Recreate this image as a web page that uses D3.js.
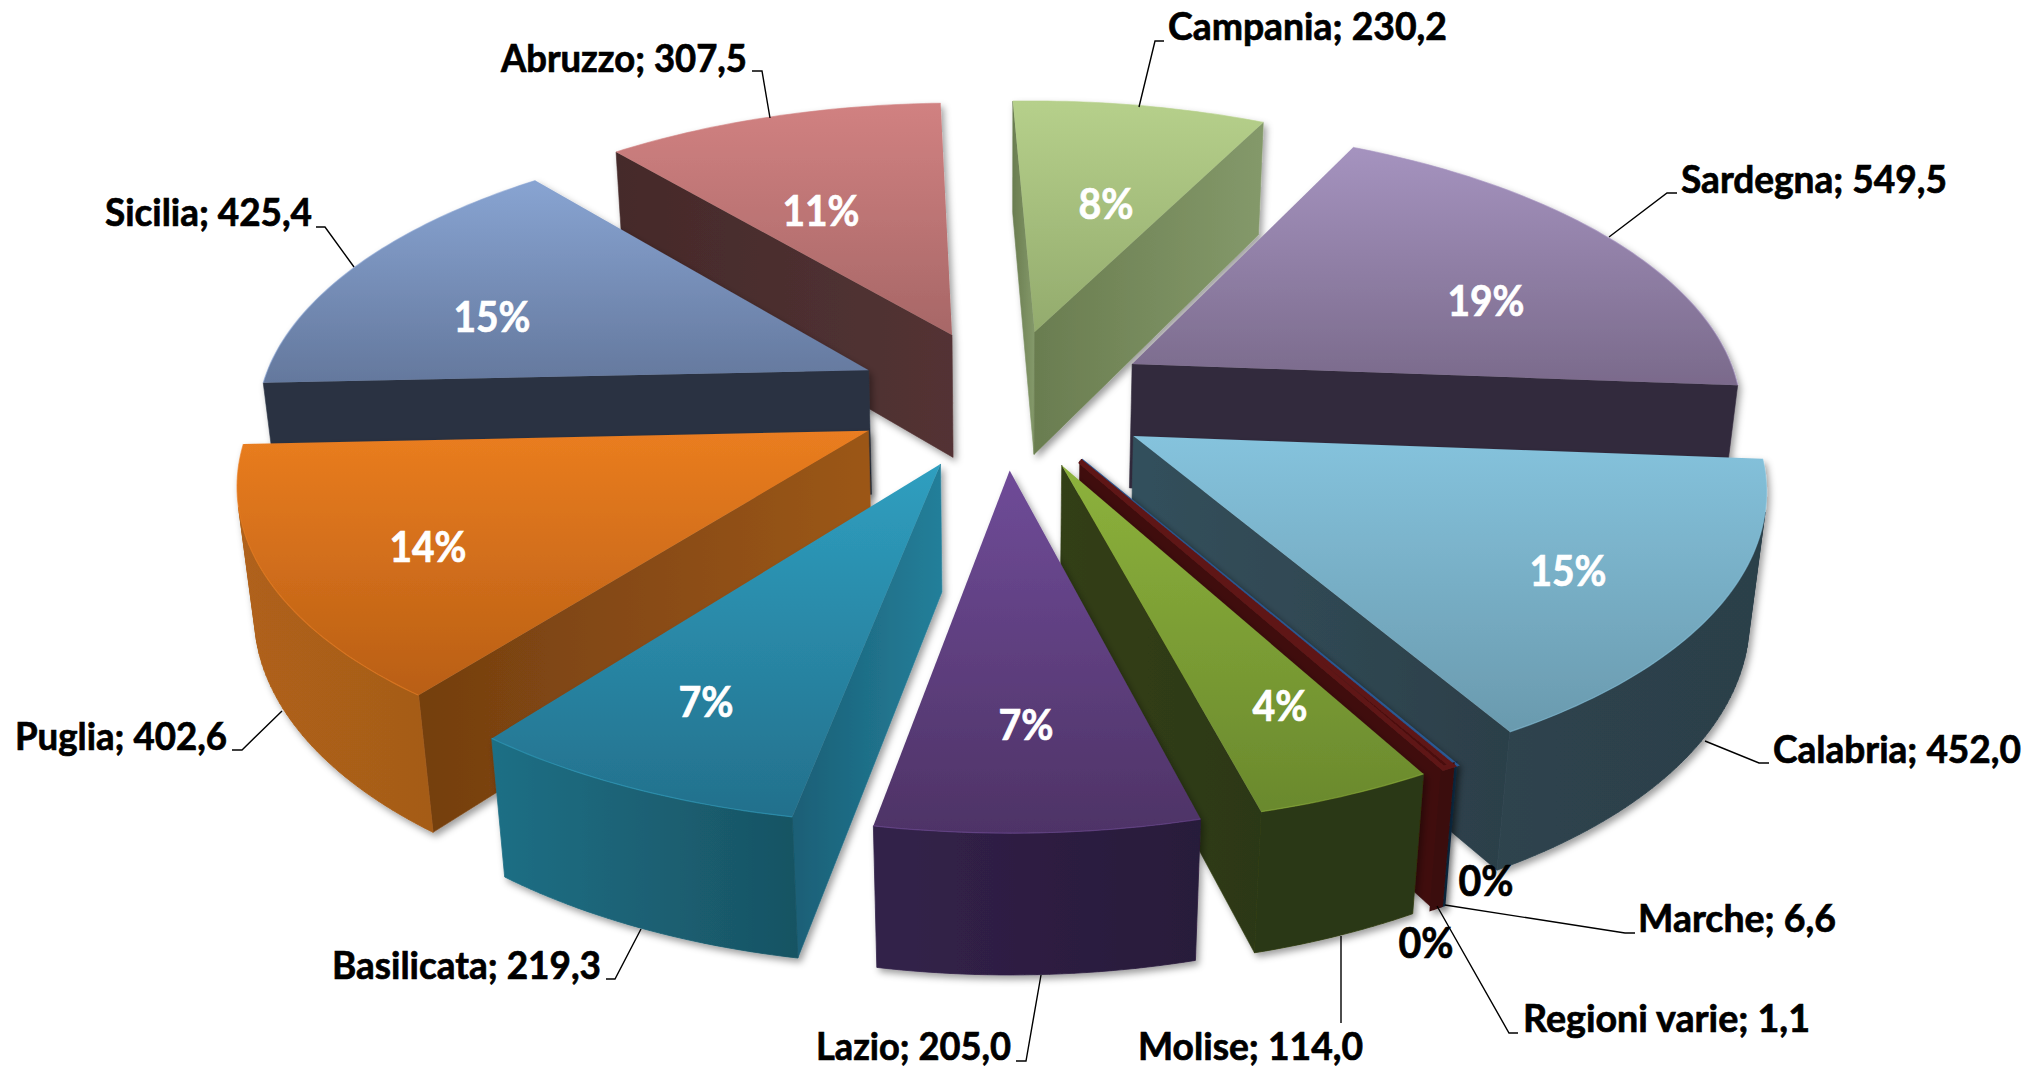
<!DOCTYPE html>
<html><head><meta charset="utf-8">
<script src="https://cdnjs.cloudflare.com/ajax/libs/d3/7.8.5/d3.min.js"></script>
<style>html,body{margin:0;padding:0;background:#fff}svg{display:block}text{font-family:Lato,"Open Sans",sans-serif;font-weight:700}</style>
</head><body><svg id="c" width="2026" height="1067"></svg>
<script>
// ---- data (clockwise from the top) ----
const regions=["Campania","Sardegna","Calabria","Regioni varie","Marche","Molise","Lazio","Basilicata","Puglia","Sicilia","Abruzzo"];
const values=[230.2,549.5,452.0,1.1,6.6,114.0,205.0,219.3,402.6,425.4,307.5];
const percents=["8%","19%","15%","0%","0%","4%","7%","7%","14%","15%","11%"];
// ---- styles, one entry per region ----
const topFrom=["#b6d08b","#a593bf","#85c3dd","#2f62a3","#5e1616","#8db23c","#6f4b98","#2f9fc0","#ea7d20","#88a4d2","#d18181"];
const topTo  =["#93ab6d","#7a6a8b","#6a9aae","#26518a","#4a1010","#6a892d","#4e3366","#23708c","#b95f15","#64789d","#a76767"];
const wallFrom=["#5c6e45","#332b3d","#2f4a55","#123a66","#3a0e0e","#2c3812","#33224a","#1f6f85","#b0621a","#293242","#4e3132"];
const wallTo  =["#5c6e45","#332b3d","#2c3f49","#10304f","#3a0e0e","#2c3812","#281a3a","#144653","#8c4e16","#293242","#4e3132"];
const cutFrom =["#6a7d50","#332b3d","#33505c","#123a66","#3f1010","#333f14","#3a2752","#1a5f76","#743f10","#293242","#452a2a"];
const cutTo   =["#84996a","#332b3d","#2c3f49","#123a66","#3f1010","#2c3812","#3a2752","#247f9a","#9c5717","#293242","#533334"];
// ---- text layout ----
const labelBox=[[1168,279,40],[1681,266,193],[1773,248,763],[1523,287,1032],[1638,198,932],[1138,225,1060],[816,195,1060],[332,269,979],[15,212,750],[105,207,226],[501,246,72]];
const leaders=[[[1139,107],[1155,41],[1164,41]],[[1609,237],[1667,193],[1677,193]],[[1705,741],[1759,763],[1769,763]],[[1437,906],[1509,1033],[1518,1033]],[[1445,905],[1625,933],[1635,933]],[[1341,936],[1341,1023]],[[1041,975],[1026,1061],[1016,1061]],[[641,929],[615,979],[606,979]],[[282,711],[242,750],[232,750]],[[354,267],[325,227],[316,227]],[[770,118],[762,71],[752,71]]];
const pctPos=[[1106,204],[1486,301],[1568,571],[1486,881],[1426,943],[1280,706],[1026,725],[706,702],[428,547],[492,317],[821,211]];
const pctFill=["#fff","#fff","#fff","#000","#000","#fff","#fff","#fff","#fff","#fff","#fff"];

// ---- projection of the exploded pie ----
const cx=1004,cy=398,Rx=610,Ry=284,persp=0.15,conv=0.022,depth=128,explode=0.246;
const sx=d3.scaleLinear().domain([0,1]).range([cx,cx+Rx]);
function project(X,Y,z){const w=1/(1-persp*Y+conv*z);return [cx+(sx(X)-cx)*w, cy+(Ry*Y+depth*z)*w];}
const rad=Math.PI/180;
const pie=d3.pie().sort(null).value(d=>d).startAngle(-2*rad).endAngle(358*rad);
const arcs=pie(values).map((a,i)=>({...a,i,mid:(a.startAngle+a.endAngle)/2}));
const line=d3.line();
const fmt=d3.formatLocale({decimal:",",thousands:".",grouping:[3],currency:["","€"]}).format(".1f");

const svg=d3.select("#c");
const defs=svg.append("defs");
const f=defs.append("filter").attr("id","sh").attr("x","-10%").attr("y","-10%").attr("width","125%").attr("height","125%");
f.append("feDropShadow").attr("dx",3).attr("dy",4).attr("stdDeviation",3.5).attr("flood-color","#000").attr("flood-opacity",.38);
function grad(id,c0,c1,x1,y1,x2,y2){const g=defs.append("linearGradient").attr("id",id).attr("gradientUnits","userSpaceOnUse").attr("x1",x1).attr("y1",y1).attr("x2",x2).attr("y2",y2);
 g.append("stop").attr("offset",0).attr("stop-color",c0);g.append("stop").attr("offset",1).attr("stop-color",c1);return `url(#${id})`;}

const order=arcs.slice().sort((a,b)=>Math.cos(b.mid)-Math.cos(a.mid));
const gAll=svg.append("g");
order.forEach(a=>{
 const i=a.i,ex=explode*Math.sin(a.mid),ey=-explode*Math.cos(a.mid);
 const P=(ang,r,z)=>project(ex+r*Math.sin(ang),ey-r*Math.cos(ang),z);
 const n=Math.max(2,Math.ceil((a.endAngle-a.startAngle)/rad));
 const angs=d3.range(n+1).map(k=>a.startAngle+(a.endAngle-a.startAngle)*k/n);
 const rim=angs.map(t=>P(t,1,0)),rimB=angs.map(t=>P(t,1,1));
 const tip=P(0,0,0),tipB=P(0,0,1);
 const thin=(a.endAngle-a.startAngle)<1*rad; // a sliver stays visible through its outline
 const g=gAll.append("g").attr("filter","url(#sh)");
 const visible=q=>d3.polygonArea(q)>0;
 const xs=rim.concat(rimB,[tip,tipB]).map(p=>p[0]);
 const xMin=d3.min(xs),xMax=d3.max(xs);
 // cuts
 [[tip,rim[0],rimB[0],tipB],[rim[n],tip,tipB,rimB[n]]].forEach((q,k)=>{
  if(visible(q)){const e=d3.extent(q,p=>p[0]);
   const fill=grad(`c${i}_${k}`,cutFrom[i],cutTo[i],e[0],0,e[1]+.01,0);
   g.append("path").attr("d",line(q)+"Z").attr("fill",fill).attr("stroke",fill).attr("stroke-width",.6);}
 });
 // outer wall
 let d="";
 for(let k=0;k<n;k++){const q=[rim[k],rim[k+1],rimB[k+1],rimB[k]];if(visible(q))d+=line(q)+"Z";}
 if(d){const wf=grad(`w${i}`,wallFrom[i],wallTo[i],xMin,0,xMax+.01,0);
  g.append("path").attr("d",d).attr("fill",wf).attr("stroke",wf).attr("stroke-width",thin?5:.8);}
 // top face
 const topPoly=[tip].concat(rim);
 const ye=d3.extent(topPoly,p=>p[1]);
 const tf=g.append("path").attr("d",line(topPoly)+"Z").attr("fill",grad(`t${i}`,topFrom[i],topTo[i],0,ye[0],0,ye[1]));
 if(thin) tf.attr("stroke",topFrom[i]).attr("stroke-width",5);
 g.append("path").attr("d",line(rim)).attr("fill","none").attr("stroke",topFrom[i]).attr("stroke-width",1.2).attr("stroke-opacity",.6);
});

// leaders
svg.append("g").selectAll("path").data(leaders).join("path").attr("d",d=>line(d)).attr("fill","none").attr("stroke","#000").attr("stroke-width",1.4);
// category labels
svg.append("g").selectAll("text").data(regions).join("text")
 .attr("x",(d,i)=>labelBox[i][0]).attr("y",(d,i)=>labelBox[i][2]).attr("font-size",38).attr("fill","#000").attr("stroke","#000").attr("stroke-width",.7)
 .attr("textLength",(d,i)=>labelBox[i][1]).attr("lengthAdjust","spacingAndGlyphs")
 .text((d,i)=>`${d}; ${fmt(values[i])}`);
// percentages
svg.append("g").selectAll("text").data(percents).join("text")
 .attr("x",(d,i)=>pctPos[i][0]).attr("y",(d,i)=>pctPos[i][1]+15).attr("text-anchor","middle").attr("font-size",42)
 .attr("textLength",d=>d.length===3?77:55).attr("lengthAdjust","spacingAndGlyphs")
 .attr("fill",(d,i)=>pctFill[i]).attr("stroke",(d,i)=>pctFill[i]).attr("stroke-width",.7).text(d=>d);
</script></body></html>
